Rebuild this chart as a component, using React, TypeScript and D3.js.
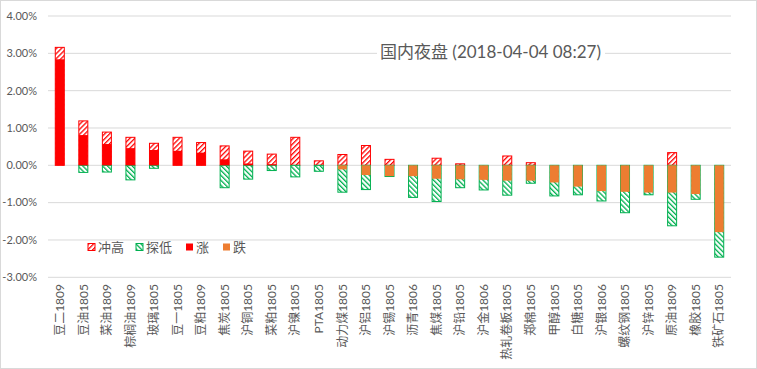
import React from "react";
import * as d3 from "d3";

const names = ["豆二1809","豆油1805","菜油1809","棕榈油1809","玻璃1805","豆一1805","豆粕1809","焦炭1805","沪铜1805","菜粕1805","沪镍1805","PTA1805","动力煤1805","沪铝1805","沪锡1805","沥青1806","焦煤1805","沪铅1805","沪金1806","热轧卷板1805","郑棉1805","甲醇1805","白糖1805","沪银1806","螺纹钢1805","沪锌1805","原油1809","橡胶1805","铁矿石1805"];
const high = [3.16,1.19,0.89,0.75,0.59,0.75,0.61,0.52,0.38,0.30,0.75,0.12,0.29,0.53,0.16,0,0.19,0.04,0,0.25,0.07,0,0,0,0,0,0.34,0,0];
const low = [0,-0.19,-0.18,-0.39,-0.08,0,0,-0.6,-0.37,-0.14,-0.31,-0.16,-0.72,-0.65,-0.30,-0.86,-0.97,-0.6,-0.66,-0.80,-0.48,-0.82,-0.79,-0.955,-1.27,-0.79,-1.62,-0.91,-2.46];
const close = [2.84,0.81,0.57,0.46,0.41,0.39,0.34,0.16,0.05,0.03,0,0,-0.11,-0.26,-0.29,-0.29,-0.36,-0.375,-0.39,-0.41,-0.41,-0.46,-0.57,-0.69,-0.71,-0.73,-0.73,-0.77,-1.79];
const yTicks = [4,3,2,1,0,-1,-2,-3];
const legendItems = ["冲高","探低","涨","跌"];
const title = "国内夜盘 (2018-04-04 08:27)";

const W = 757, H = 369;
const FONT = "Lato, 'Noto Sans CJK SC', sans-serif";

export default function App() {
  const x = d3.scaleBand<string>().domain(names).range([48, 731]).padding(0);
  const y = d3.scaleLinear().domain([-3, 4]).range([277.3, 16]);
  const bw = 9;
  const y0 = y(0);
  const legendX = [88, 136, 186, 223];
  const legendFill = ["url(#hatchRed)", "url(#hatchGreen)", "#FF0000", "#ED7D31"];
  const legendStroke = ["#FF0000", "#00B050", "none", "none"];
  return (
    <svg width={W} height={H} style={{ position: "absolute", left: 0, top: 0 }}>
      <defs>
        <pattern id="hatchRed" patternUnits="userSpaceOnUse" width={3.5} height={3.5} patternTransform="rotate(45)">
          <rect width={3.5} height={3.5} fill="#fff" />
          <rect width={1.3} height={3.5} fill="#FF0000" />
        </pattern>
        <pattern id="hatchGreen" patternUnits="userSpaceOnUse" width={3.5} height={3.5} patternTransform="rotate(-45)">
          <rect width={3.5} height={3.5} fill="#fff" />
          <rect width={1.3} height={3.5} fill="#00B050" />
        </pattern>
      </defs>
      <rect x={0} y={0} width={W} height={H} fill="#fff" />
      <rect x={0.5} y={0.5} width={W - 1} height={H - 1} fill="none" stroke="#d9d9d9" />
      {yTicks.map((t) => (
        <g key={t}>
          <line x1={48} x2={731} y1={y(t)} y2={y(t)} stroke="#d9d9d9" strokeWidth={1} />
          <text x={37} y={y(t)} dy="0.35em" textAnchor="end" fontSize={11} fill="#595959" fontFamily={FONT}>
            {t.toFixed(2) + "%"}
          </text>
        </g>
      ))}
      <rect x={377} y={40} width={228} height={24} fill="#fff" />
      <text x={380} y={52} dy="0.35em" fontSize={17} fill="#595959" fontFamily={FONT}>{title}</text>
      {names.map((n, i) => {
        const cx = (x(n) as number) + x.bandwidth() / 2;
        const bx = cx - bw / 2;
        return (
          <g key={n}>
            {high[i] > 0 && (
              <rect x={bx} y={y(high[i])} width={bw} height={y0 - y(high[i])} fill="url(#hatchRed)" stroke="#FF0000" strokeWidth={1} />
            )}
            {low[i] < 0 && (
              <rect x={bx} y={y0} width={bw} height={y(low[i]) - y0} fill="url(#hatchGreen)" stroke="#00B050" strokeWidth={1} />
            )}
            {close[i] > 0 && (
              <rect x={bx} y={y(close[i])} width={bw} height={y0 - y(close[i])} fill="#FF0000" />
            )}
            {close[i] < 0 && (
              <rect x={bx} y={y0} width={bw} height={y(close[i]) - y0} fill="#ED7D31" />
            )}
            <text transform={`translate(${cx},284) rotate(-90)`} textAnchor="end" dy="0.35em" fontSize={12} fill="#595959" fontFamily={FONT}>
              {n}
            </text>
          </g>
        );
      })}
      {legendItems.map((l, i) => (
        <g key={l}>
          <rect x={legendX[i]} y={243.5} width={7} height={7} fill={legendFill[i]} stroke={legendStroke[i]} strokeWidth={1} />
          <text x={legendX[i] + 10} y={247} dy="0.35em" fontSize={13} fill="#595959" fontFamily={FONT}>{l}</text>
        </g>
      ))}
    </svg>
  );
}
